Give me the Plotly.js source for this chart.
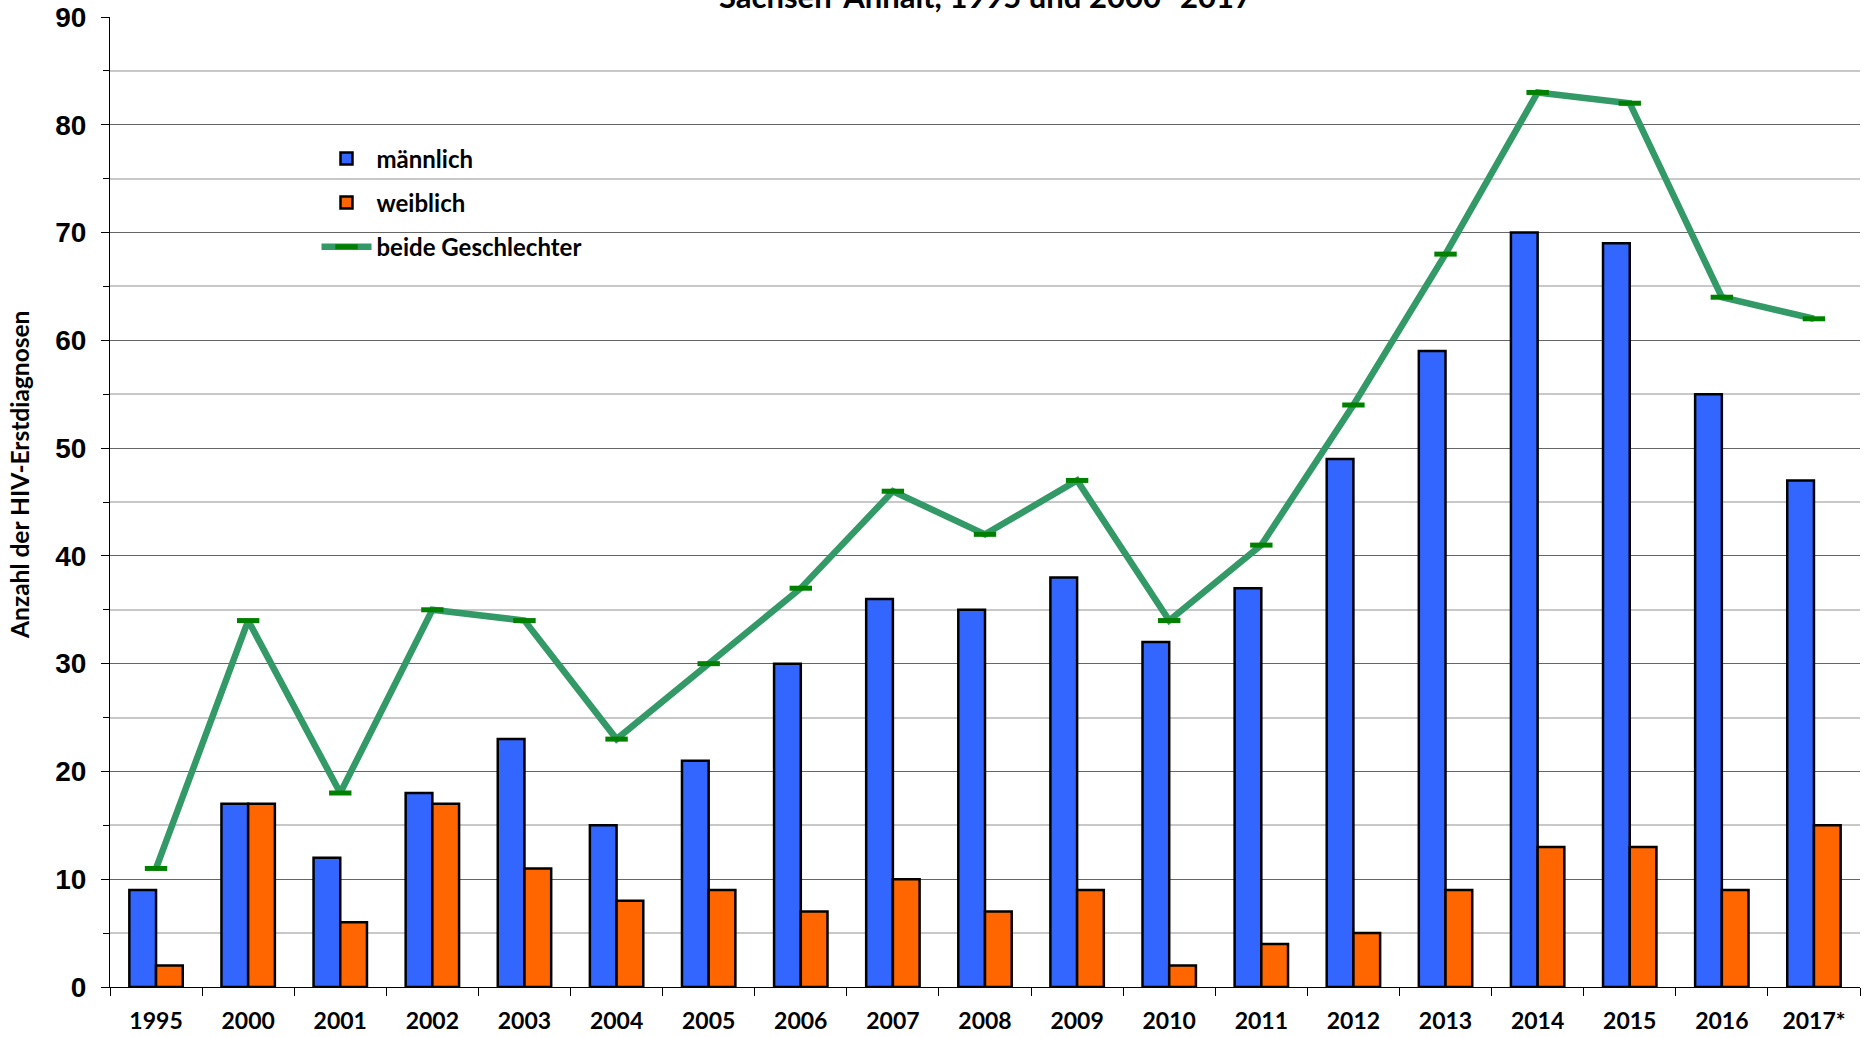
<!DOCTYPE html>
<html>
<head>
<meta charset="utf-8">
<script src="https://cdn.plot.ly/plotly-3.0.1.min.js"></script>
<style>html,body{margin:0;padding:0;background:#fff;}#chart{width:1865px;height:1037px;}</style>
</head>
<body>
<div id="chart"></div>
<script>
const years = ["1995","2000","2001","2002","2003","2004","2005","2006","2007","2008","2009","2010","2011","2012","2013","2014","2015","2016","2017*"];
const maennlich = [9,17,12,18,23,15,21,30,36,35,38,32,37,49,59,70,69,55,47];
const weiblich = [2,17,6,17,11,8,9,7,10,7,9,2,4,5,9,13,13,9,15];
const beide = [11,34,18,35,34,23,30,37,46,42,47,34,41,54,68,83,82,64,62];
const titleText = "Sachsen-Anhalt, 1995 und 2000 -2017";
const yTitle = "Anzahl der HIV-Erstdiagnosen";

const calib = "Lato, 'Open Sans', sans-serif";
const arial = "'Liberation Sans', Arial, sans-serif";

const traces = [
  {type:"bar", name:"männlich", x:years, y:maennlich, legendgroup:"a",
   marker:{color:"#3366FF", line:{color:"#000", width:2.5}}, hoverinfo:"x+y"},
  {type:"bar", name:"weiblich", x:years, y:weiblich, legendgroup:"b",
   marker:{color:"#FF6600", line:{color:"#000", width:2.5}}, hoverinfo:"x+y"},
  {type:"scatter", mode:"lines+markers", name:"beide Geschlechter", x:years, y:beide, legendgroup:"c",
   line:{color:"#339966", width:6.5},
   marker:{symbol:"line-ew", size:16, color:"#008000", line:{color:"#008000", width:5}}}
];

const layout = {
  width:1865, height:1037,
  margin:{l:110, r:5, t:17, b:50},
  paper_bgcolor:"#fff", plot_bgcolor:"#fff",
  barmode:"group", bargap:0.42, bargroupgap:0,
  showlegend:true,
  legend:{x:0.118, y:0.877, xanchor:"left", yanchor:"top", bgcolor:"rgba(0,0,0,0)",
          font:{family:calib, size:24, color:"#000", weight:"bold"},
          traceorder:"grouped", tracegroupgap:10, itemwidth:50},
  xaxis:{type:"category", range:[-0.5, 18.5], autorange:false, tickson:"boundaries", ticks:"outside", ticklen:8, tickcolor:"#000", tickwidth:1,
         showline:true, linecolor:"#000", linewidth:1, showgrid:false, zeroline:false,
         tickfont:{family:calib, size:23, color:"#000", weight:"bold"}, ticklabelstandoff:13},
  yaxis:{range:[0,90], autorange:false, dtick:10, tick0:0, ticks:"outside", ticklen:8, tickcolor:"#000", tickwidth:1,
         showline:true, linecolor:"#000", linewidth:1, zeroline:false,
         showgrid:true, gridcolor:"#666", gridwidth:1.2,
         tickfont:{family:arial, size:28, color:"#000", weight:"bold"}, ticklabelstandoff:9,
         minor:{dtick:5, showgrid:true, gridcolor:"#c8c8c8", gridwidth:2, ticks:"outside", ticklen:6, tickcolor:"#000"}},
  shapes:[{type:"rect", xref:"paper", yref:"paper", x0:0.044, x1:0.3457, y0:0.729, y1:0.8804,
           fillcolor:"#fff", line:{width:0}, layer:"between"}],
  annotations:[
    {text:titleText, xref:"paper", yref:"paper", x:0.5, y:1.0, xanchor:"center", yanchor:"bottom",
     showarrow:false, font:{family:calib, size:31, color:"#000", weight:"bold"}},
    {text:yTitle, xref:"paper", yref:"paper", x:-0.0514, y:0.528, xanchor:"center", yanchor:"middle",
     textangle:-90, showarrow:false, font:{family:calib, size:24.5, color:"#000", weight:"bold"}}
  ]
};

Plotly.newPlot("chart", traces, layout, {displayModeBar:false, staticPlot:true});
</script>
</body>
</html>
